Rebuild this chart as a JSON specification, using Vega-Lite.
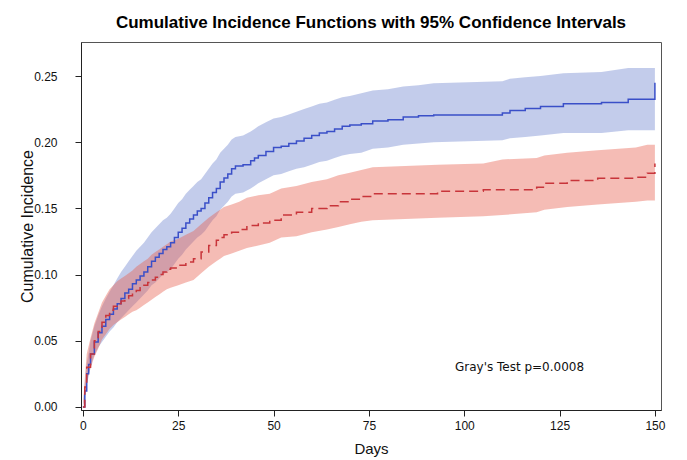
{
  "$schema": "https://vega.github.io/schema/vega-lite/v6.json",
  "width": 580,
  "height": 368,
  "autosize": "none",
  "padding": {"left": 81, "top": 42, "right": 26, "bottom": 50},
  "background": "white",
  "title": {"text": "Cumulative Incidence Functions with 95% Confidence Intervals", "font": "Liberation Sans", "fontSize": 17, "fontWeight": "bold", "color": "#000", "anchor": "middle", "offset": 10},
  "config": {
    "view": {"stroke": "#555", "strokeWidth": 1},
    "axis": {"grid": false, "domainColor": "#222", "tickColor": "#222", "labelFont": "Liberation Sans", "labelFontSize": 12, "labelColor": "#111", "titleFont": "Liberation Sans", "titleColor": "#111", "titleFontWeight": "normal"}
  },
  "datasets": {
    "cif": [
      {"group": "A", "day": 0, "cif": 0, "lo": 0, "hi": 0},
      {"group": "A", "day": 0.5, "cif": 0.012, "lo": 0.006, "hi": 0.018},
      {"group": "A", "day": 1, "cif": 0.025, "lo": 0.017, "hi": 0.033},
      {"group": "A", "day": 1.5, "cif": 0.032, "lo": 0.023, "hi": 0.041},
      {"group": "A", "day": 2, "cif": 0.04, "lo": 0.031, "hi": 0.05},
      {"group": "A", "day": 3, "cif": 0.049, "lo": 0.039, "hi": 0.061},
      {"group": "A", "day": 4, "cif": 0.056, "lo": 0.045, "hi": 0.069},
      {"group": "A", "day": 5, "cif": 0.061, "lo": 0.049, "hi": 0.076},
      {"group": "A", "day": 6, "cif": 0.066, "lo": 0.053, "hi": 0.082},
      {"group": "A", "day": 7, "cif": 0.07, "lo": 0.057, "hi": 0.087},
      {"group": "A", "day": 8, "cif": 0.074, "lo": 0.06, "hi": 0.092},
      {"group": "A", "day": 9, "cif": 0.078, "lo": 0.064, "hi": 0.097},
      {"group": "A", "day": 10, "cif": 0.082, "lo": 0.067, "hi": 0.102},
      {"group": "A", "day": 11, "cif": 0.086, "lo": 0.07, "hi": 0.106},
      {"group": "A", "day": 12, "cif": 0.089, "lo": 0.073, "hi": 0.11},
      {"group": "A", "day": 13, "cif": 0.093, "lo": 0.076, "hi": 0.114},
      {"group": "A", "day": 14, "cif": 0.096, "lo": 0.079, "hi": 0.118},
      {"group": "A", "day": 15, "cif": 0.099, "lo": 0.082, "hi": 0.121},
      {"group": "A", "day": 16, "cif": 0.102, "lo": 0.085, "hi": 0.124},
      {"group": "A", "day": 17, "cif": 0.106, "lo": 0.088, "hi": 0.128},
      {"group": "A", "day": 18, "cif": 0.11, "lo": 0.092, "hi": 0.132},
      {"group": "A", "day": 19, "cif": 0.113, "lo": 0.094, "hi": 0.135},
      {"group": "A", "day": 20, "cif": 0.116, "lo": 0.097, "hi": 0.138},
      {"group": "A", "day": 21, "cif": 0.119, "lo": 0.1, "hi": 0.141},
      {"group": "A", "day": 22, "cif": 0.121, "lo": 0.102, "hi": 0.143},
      {"group": "A", "day": 23, "cif": 0.124, "lo": 0.104, "hi": 0.146},
      {"group": "A", "day": 24, "cif": 0.128, "lo": 0.108, "hi": 0.15},
      {"group": "A", "day": 25, "cif": 0.132, "lo": 0.112, "hi": 0.154},
      {"group": "A", "day": 26, "cif": 0.135, "lo": 0.115, "hi": 0.157},
      {"group": "A", "day": 27, "cif": 0.139, "lo": 0.119, "hi": 0.161},
      {"group": "A", "day": 28, "cif": 0.142, "lo": 0.122, "hi": 0.164},
      {"group": "A", "day": 29, "cif": 0.145, "lo": 0.125, "hi": 0.167},
      {"group": "A", "day": 30, "cif": 0.148, "lo": 0.128, "hi": 0.17},
      {"group": "A", "day": 31, "cif": 0.15, "lo": 0.13, "hi": 0.172},
      {"group": "A", "day": 32, "cif": 0.154, "lo": 0.133, "hi": 0.176},
      {"group": "A", "day": 33, "cif": 0.158, "lo": 0.137, "hi": 0.18},
      {"group": "A", "day": 34, "cif": 0.162, "lo": 0.141, "hi": 0.184},
      {"group": "A", "day": 35, "cif": 0.165, "lo": 0.144, "hi": 0.187},
      {"group": "A", "day": 36, "cif": 0.17, "lo": 0.149, "hi": 0.192},
      {"group": "A", "day": 37, "cif": 0.173, "lo": 0.152, "hi": 0.195},
      {"group": "A", "day": 38, "cif": 0.176, "lo": 0.155, "hi": 0.198},
      {"group": "A", "day": 39, "cif": 0.18, "lo": 0.159, "hi": 0.202},
      {"group": "A", "day": 40, "cif": 0.182, "lo": 0.161, "hi": 0.204},
      {"group": "A", "day": 42, "cif": 0.183, "lo": 0.162, "hi": 0.205},
      {"group": "A", "day": 44, "cif": 0.186, "lo": 0.165, "hi": 0.208},
      {"group": "A", "day": 45, "cif": 0.188, "lo": 0.167, "hi": 0.21},
      {"group": "A", "day": 46, "cif": 0.19, "lo": 0.169, "hi": 0.212},
      {"group": "A", "day": 48, "cif": 0.193, "lo": 0.172, "hi": 0.215},
      {"group": "A", "day": 50, "cif": 0.196, "lo": 0.175, "hi": 0.218},
      {"group": "A", "day": 52, "cif": 0.197, "lo": 0.176, "hi": 0.219},
      {"group": "A", "day": 54, "cif": 0.199, "lo": 0.178, "hi": 0.221},
      {"group": "A", "day": 56, "cif": 0.201, "lo": 0.18, "hi": 0.223},
      {"group": "A", "day": 58, "cif": 0.203, "lo": 0.181, "hi": 0.225},
      {"group": "A", "day": 60, "cif": 0.205, "lo": 0.183, "hi": 0.227},
      {"group": "A", "day": 62, "cif": 0.207, "lo": 0.185, "hi": 0.229},
      {"group": "A", "day": 64, "cif": 0.208, "lo": 0.186, "hi": 0.23},
      {"group": "A", "day": 66, "cif": 0.21, "lo": 0.188, "hi": 0.232},
      {"group": "A", "day": 68, "cif": 0.212, "lo": 0.19, "hi": 0.234},
      {"group": "A", "day": 70, "cif": 0.213, "lo": 0.191, "hi": 0.235},
      {"group": "A", "day": 73, "cif": 0.214, "lo": 0.192, "hi": 0.237},
      {"group": "A", "day": 76, "cif": 0.216, "lo": 0.195, "hi": 0.239},
      {"group": "A", "day": 80, "cif": 0.217, "lo": 0.196, "hi": 0.24},
      {"group": "A", "day": 84, "cif": 0.219, "lo": 0.198, "hi": 0.242},
      {"group": "A", "day": 88, "cif": 0.22, "lo": 0.199, "hi": 0.243},
      {"group": "A", "day": 92, "cif": 0.2205, "lo": 0.2, "hi": 0.2445},
      {"group": "A", "day": 110, "cif": 0.222, "lo": 0.2015, "hi": 0.246},
      {"group": "A", "day": 112, "cif": 0.224, "lo": 0.203, "hi": 0.248},
      {"group": "A", "day": 116, "cif": 0.2255, "lo": 0.204, "hi": 0.249},
      {"group": "A", "day": 120, "cif": 0.227, "lo": 0.205, "hi": 0.25},
      {"group": "A", "day": 126, "cif": 0.229, "lo": 0.207, "hi": 0.252},
      {"group": "A", "day": 136, "cif": 0.23, "lo": 0.207, "hi": 0.253},
      {"group": "A", "day": 143, "cif": 0.2325, "lo": 0.209, "hi": 0.256},
      {"group": "A", "day": 150, "cif": 0.245, "lo": 0.209, "hi": 0.256},
      {"group": "B", "day": 0, "cif": 0, "lo": 0, "hi": 0},
      {"group": "B", "day": 0.5, "cif": 0.015, "lo": 0.008, "hi": 0.022},
      {"group": "B", "day": 1, "cif": 0.03, "lo": 0.02, "hi": 0.04},
      {"group": "B", "day": 2, "cif": 0.04, "lo": 0.029, "hi": 0.052},
      {"group": "B", "day": 3, "cif": 0.05, "lo": 0.038, "hi": 0.063},
      {"group": "B", "day": 4, "cif": 0.057, "lo": 0.044, "hi": 0.071},
      {"group": "B", "day": 5, "cif": 0.064, "lo": 0.051, "hi": 0.079},
      {"group": "B", "day": 6, "cif": 0.069, "lo": 0.055, "hi": 0.084},
      {"group": "B", "day": 7, "cif": 0.073, "lo": 0.059, "hi": 0.089},
      {"group": "B", "day": 8, "cif": 0.076, "lo": 0.062, "hi": 0.092},
      {"group": "B", "day": 9, "cif": 0.078, "lo": 0.064, "hi": 0.095},
      {"group": "B", "day": 10, "cif": 0.08, "lo": 0.066, "hi": 0.097},
      {"group": "B", "day": 11, "cif": 0.082, "lo": 0.068, "hi": 0.099},
      {"group": "B", "day": 12, "cif": 0.084, "lo": 0.07, "hi": 0.101},
      {"group": "B", "day": 13, "cif": 0.086, "lo": 0.072, "hi": 0.103},
      {"group": "B", "day": 14, "cif": 0.088, "lo": 0.073, "hi": 0.106},
      {"group": "B", "day": 15, "cif": 0.09, "lo": 0.075, "hi": 0.108},
      {"group": "B", "day": 16, "cif": 0.092, "lo": 0.077, "hi": 0.11},
      {"group": "B", "day": 17, "cif": 0.094, "lo": 0.079, "hi": 0.112},
      {"group": "B", "day": 18, "cif": 0.096, "lo": 0.081, "hi": 0.115},
      {"group": "B", "day": 19, "cif": 0.098, "lo": 0.083, "hi": 0.117},
      {"group": "B", "day": 20, "cif": 0.1, "lo": 0.085, "hi": 0.119},
      {"group": "B", "day": 21, "cif": 0.102, "lo": 0.087, "hi": 0.121},
      {"group": "B", "day": 22, "cif": 0.104, "lo": 0.089, "hi": 0.123},
      {"group": "B", "day": 23, "cif": 0.105, "lo": 0.09, "hi": 0.125},
      {"group": "B", "day": 25, "cif": 0.107, "lo": 0.092, "hi": 0.127},
      {"group": "B", "day": 27, "cif": 0.1095, "lo": 0.094, "hi": 0.13},
      {"group": "B", "day": 29, "cif": 0.112, "lo": 0.096, "hi": 0.133},
      {"group": "B", "day": 31, "cif": 0.117, "lo": 0.101, "hi": 0.138},
      {"group": "B", "day": 33, "cif": 0.122, "lo": 0.106, "hi": 0.143},
      {"group": "B", "day": 35, "cif": 0.126, "lo": 0.11, "hi": 0.147},
      {"group": "B", "day": 36, "cif": 0.128, "lo": 0.112, "hi": 0.149},
      {"group": "B", "day": 37, "cif": 0.13, "lo": 0.114, "hi": 0.151},
      {"group": "B", "day": 39, "cif": 0.132, "lo": 0.116, "hi": 0.153},
      {"group": "B", "day": 41, "cif": 0.134, "lo": 0.118, "hi": 0.155},
      {"group": "B", "day": 43, "cif": 0.137, "lo": 0.12, "hi": 0.158},
      {"group": "B", "day": 46, "cif": 0.139, "lo": 0.122, "hi": 0.16},
      {"group": "B", "day": 49, "cif": 0.141, "lo": 0.124, "hi": 0.161},
      {"group": "B", "day": 52, "cif": 0.145, "lo": 0.128, "hi": 0.165},
      {"group": "B", "day": 56, "cif": 0.147, "lo": 0.129, "hi": 0.167},
      {"group": "B", "day": 60, "cif": 0.15, "lo": 0.132, "hi": 0.17},
      {"group": "B", "day": 64, "cif": 0.152, "lo": 0.134, "hi": 0.172},
      {"group": "B", "day": 67, "cif": 0.155, "lo": 0.136, "hi": 0.175},
      {"group": "B", "day": 70, "cif": 0.157, "lo": 0.138, "hi": 0.177},
      {"group": "B", "day": 73, "cif": 0.159, "lo": 0.14, "hi": 0.179},
      {"group": "B", "day": 76, "cif": 0.161, "lo": 0.141, "hi": 0.181},
      {"group": "B", "day": 93, "cif": 0.163, "lo": 0.143, "hi": 0.183},
      {"group": "B", "day": 105, "cif": 0.164, "lo": 0.144, "hi": 0.184},
      {"group": "B", "day": 110, "cif": 0.164, "lo": 0.145, "hi": 0.187},
      {"group": "B", "day": 119, "cif": 0.166, "lo": 0.147, "hi": 0.188},
      {"group": "B", "day": 121, "cif": 0.169, "lo": 0.149, "hi": 0.19},
      {"group": "B", "day": 127, "cif": 0.171, "lo": 0.151, "hi": 0.192},
      {"group": "B", "day": 135, "cif": 0.1727, "lo": 0.153, "hi": 0.194},
      {"group": "B", "day": 145, "cif": 0.1735, "lo": 0.155, "hi": 0.196},
      {"group": "B", "day": 148, "cif": 0.1765, "lo": 0.156, "hi": 0.198},
      {"group": "B", "day": 150, "cif": 0.184, "lo": 0.156, "hi": 0.198}
    ],
    "note": [{"label": "Gray's Test p=0.0008", "day": 114.5, "y": 0.03}]
  },
  "data": {"name": "cif"},
  "encoding": {
    "x": {"field": "day", "type": "quantitative", "scale": {"domain": [-0.5, 151.6], "nice": false, "zero": false},
      "axis": {"title": "Days", "values": [0, 25, 50, 75, 100, 125, 150], "tickSize": 6, "labelPadding": 4, "titleFontSize": 15, "titlePadding": 10, "labelFlush": false}}
  },
  "layer": [
    {
      "transform": [{"filter": "datum.group === 'A'"}],
      "mark": {"type": "area", "interpolate": "linear", "color": "#6f86d0", "opacity": 0.42},
      "encoding": {
        "y": {"field": "lo", "type": "quantitative", "scale": {"domain": [-0.0023, 0.2757], "nice": false, "zero": false},
          "axis": {"title": "Cumulative Incidence", "values": [0, 0.05, 0.1, 0.15, 0.2, 0.25], "format": ".2f", "tickSize": 6, "labelPadding": 18, "titleFontSize": 16, "titlePadding": -2}},
        "y2": {"field": "hi"}
      }
    },
    {
      "transform": [{"filter": "datum.group === 'B'"}],
      "mark": {"type": "area", "interpolate": "linear", "color": "#e8604f", "opacity": 0.42},
      "encoding": {
        "y": {"field": "lo", "type": "quantitative"},
        "y2": {"field": "hi"}
      }
    },
    {
      "transform": [{"filter": "datum.group === 'A'"}],
      "mark": {"type": "line", "interpolate": "step-after", "color": "#3a4fc8", "strokeWidth": 1.5},
      "encoding": {"y": {"field": "cif", "type": "quantitative"}}
    },
    {
      "transform": [{"filter": "datum.group === 'B'"}],
      "mark": {"type": "line", "interpolate": "step-after", "color": "#c8343a", "strokeWidth": 1.5, "strokeDash": [9, 5]},
      "encoding": {"y": {"field": "cif", "type": "quantitative"}}
    },
    {
      "data": {"name": "note"},
      "mark": {"type": "text", "font": "DejaVu Sans", "fontSize": 12, "color": "#111", "align": "center", "baseline": "middle"},
      "encoding": {
        "y": {"field": "y", "type": "quantitative"},
        "text": {"field": "label"}
      }
    }
  ]
}
